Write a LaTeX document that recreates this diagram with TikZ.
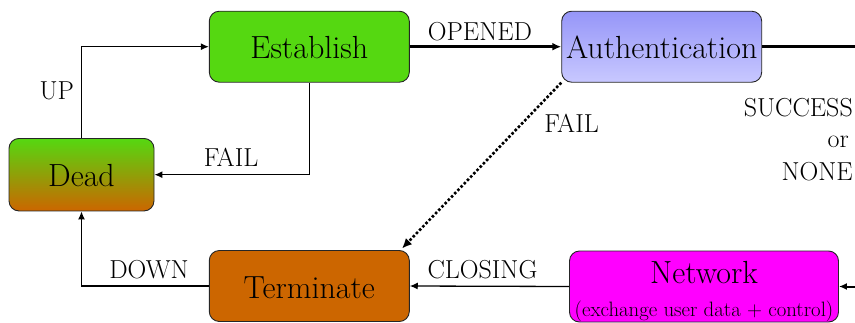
\documentclass[tikz,border=0pt]{standalone}
\usetikzlibrary{arrows.meta}

\definecolor{estgreen}{RGB}{85,216,17}
\definecolor{termorange}{RGB}{204,102,0}
\definecolor{authtop}{RGB}{150,150,248}
\definecolor{authbot}{RGB}{200,200,255}
\definecolor{netmagenta}{RGB}{255,0,255}

\newcommand{\statefont}{\fontsize{32}{36}\selectfont}
\newcommand{\notefont}{\fontsize{20.8}{24}\selectfont}

\tikzset{
  statebox/.style={draw=black!85, line width=0.9pt, rounded corners=10pt,
    minimum width=200pt, minimum height=71pt, inner sep=0pt,
    text height=24pt, text depth=0pt, font=\statefont},
  lbl/.style={anchor=base, inner sep=0pt, font=\fontsize{26}{30}\selectfont},
  thinarr/.style={line width=1.3pt, -{Latex[length=8pt,width=7pt]}},
  thickarr/.style={line width=3pt, -{Latex[length=9pt,width=8pt]}},
  thickline/.style={line width=2.6pt},
  dotarr/.style={line width=2.6pt, dotted, -{Latex[length=10pt,width=9pt]}},
}

% two centred lines, 33pt apart, first baseline raised by #1 above the node centre
\newcommand{\twolines}[3]{\raisebox{#1}[0pt][0pt]{\vtop{\baselineskip=33pt
  \lineskiplimit=-100pt
  \hbox to 0pt{\hss#2\hss}\hbox to 0pt{\hss#3\hss}}}}

\begin{document}
\begin{tikzpicture}[x=1pt, y=-1pt]
\useasboundingbox (0,0) rectangle (855,322);

% states
\node[statebox, fill=estgreen] (est) at (309.3,46.7) {Establish};
\node[statebox, top color=authtop, bottom color=authbot] (auth) at (661.7,46.7) {Authentication};
\node[statebox, minimum width=145pt, minimum height=72.5pt,
      top color=estgreen, bottom color=termorange] (dead) at (81.5,174.7) {Dead};
\node[statebox, fill=termorange] (term) at (309.3,286) {Terminate};
\node[statebox, minimum width=269pt, fill=netmagenta, text height=, text depth=] (net) at (704,286.5)
  {\twolines{3.5pt}{Network}{\notefont (exchange user data + control)}};

% loose ends at the picture border
\coordinate (authout) at (855,46.7);
\coordinate (netin) at (855,286.5);
\coordinate (failtip) at (402,248.5);

% transitions
\draw[thinarr] (dead.north) |- (est.west);
\draw[thinarr] (est.south) |- (dead.east);
\draw[thickarr] (est.east) -- (auth.west);
\draw[thickline] (auth.east) -- (authout);
\draw[dotarr] (auth.south west) -- (failtip);
\draw[thinarr] (net.west) -- (term.east);
\draw[line width=2pt, -{Latex[length=8pt,width=7pt]}] (netin) -- (net.east);
\draw[thinarr] (term.west) -| (dead.south);

% transition labels
\node[lbl] (lup) at (56.7,99) {UP};
\node[lbl] (lfail1) at (231,166) {FAIL};
\node[lbl] (lopened) at (480,40.7) {OPENED};
\node[lbl] (lfail2) at (571.5,132) {FAIL};
\node[lbl, anchor=base east] (lsucc) at (853,116) {SUCCESS};
\node[lbl, anchor=base east] (lor) at (849,147) {or};
\node[lbl, anchor=base east] (lnone) at (853,180) {NONE};
\node[lbl] (ldown) at (149,278) {DOWN};
\node[lbl] (lclosing) at (482.5,278) {CLOSING};
\end{tikzpicture}
\end{document}
